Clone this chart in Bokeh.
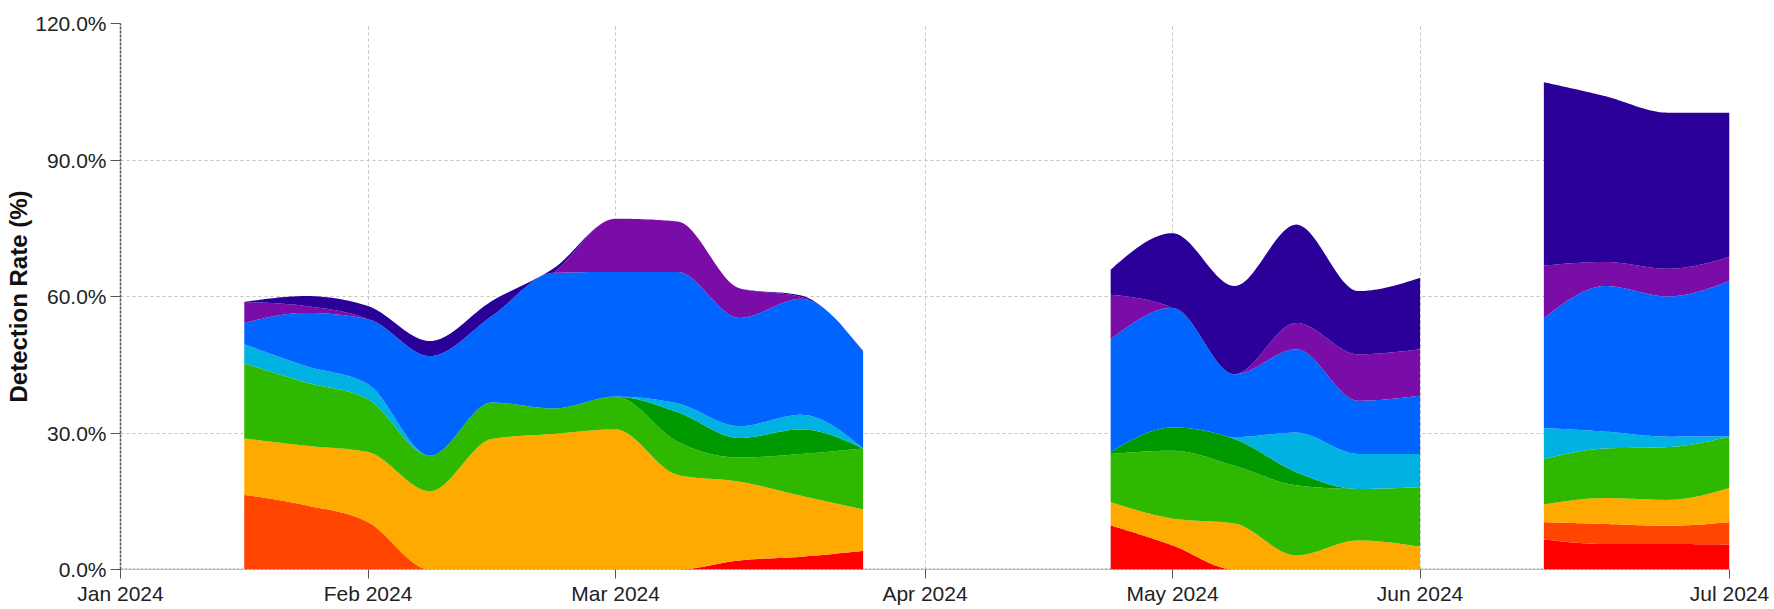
import numpy as np
from bokeh.plotting import figure
from bokeh.models import FixedTicker, Range1d, PrintfTickFormatter, Span
from bokeh.embed import file_html
from bokeh.resources import INLINE

# ---------------- data (weekly points, week 0 = first week of Jan 2024) ----------------
weeks = [2, 3, 4, 5, 6, 7, 8, 9, 10, 11, 12, 16, 17, 18, 19, 20, 21, 23, 24, 25, 26]

tick_weeks = [0, 4, 8, 13, 17, 21, 26]
tick_labels = ["Jan 2024", "Feb 2024", "Mar 2024", "Apr 2024", "May 2024", "Jun 2024", "Jul 2024"]

red       = [0, 0, 0, 0, 0, 0, 0, 0, 2.0, 2.8, 4.1,  9.7, 5.3, 0, 0, 0, 0,  6.6, 5.6, 5.6, 5.5]
orangered = [16.4, 14.1, 10.4, 0, 0, 0, 0, 0, 0, 0, 0,  0, 0, 0, 0, 0, 0,  3.8, 4.4, 4.0, 4.9]
orange    = [12.4, 13.1, 15.4, 17.2, 28.7, 29.8, 30.8, 20.8, 17.3, 13.4, 9.1,  5.1, 5.9, 10.1, 3.1, 6.4, 5.0,  3.9, 5.7, 5.7, 7.5]
green     = [16.5, 13.9, 11.6, 7.8, 8.0, 5.6, 7.2, 7.3, 5.3, 9.2, 13.4,  10.6, 14.9, 12.7, 15.4, 11.3, 13.1,  10.0, 10.9, 11.6, 11.3]
darkgreen = [0, 0, 0, 0, 0, 0, 0, 6.5, 4.3, 5.4, 0,  0.4, 5.1, 5.9, 2.9, 0, 0,  0, 0, 0, 0]
cyan      = [4.2, 3.6, 3.3, 0, 0, 0, 0, 1.9, 2.6, 3.2, 0,  0, 0, 0.4, 8.7, 7.7, 7.3,  6.8, 3.7, 2.3, 0.1]
blue      = [4.7, 11.7, 14.3, 21.9, 19.0, 29.8, 27.4, 28.9, 23.8, 25.5, 21.2,  24.8, 26.3, 13.8, 18.3, 11.7, 12.8,  24.1, 32.0, 30.8, 34.1]
purple    = [4.6, 1.5, 0, 0, 0, 0, 11.7, 11.1, 6.5, 0.4, 0,  9.8, 0, 0, 5.8, 10.2, 10.2,  11.6, 5.3, 6.1, 5.3]
indigo    = [0, 2.2, 2.9, 3.3, 3.3, 1.0, 0, 0, 0, 0.3, 0.2,  5.5, 16.4, 19.4, 21.6, 13.9, 15.7,  40.3, 36.4, 34.3, 31.7]

series = [red, orangered, orange, green, darkgreen, cyan, blue, purple, indigo]
colors = ["#FF0000", "#FF4500", "#FFAA00", "#2EB800", "#009A00", "#00B2E2", "#0064FF", "#7A0DA8", "#2A0099"]


# ---------------- smooth (monotone-x, like d3.curveMonotoneX) rendering helper ----------------
def _slopes(x, y):
    n = len(x)
    t = np.zeros(n)
    h = np.diff(x)
    s = np.diff(y) / h
    for i in range(1, n - 1):
        h0, h1, s0, s1 = h[i - 1], h[i], s[i - 1], s[i]
        p_ = (s0 * h1 + s1 * h0) / (h0 + h1)
        t[i] = (np.sign(s0) + np.sign(s1)) * min(abs(s0), abs(s1), 0.5 * abs(p_))
    t[0] = (3 * s[0] - t[1]) / 2 if n > 2 else s[0]
    t[-1] = (3 * s[-1] - t[-2]) / 2 if n > 2 else s[-1]
    return t


def smooth(x, y, per=24):
    x = np.asarray(x, float)
    y = np.asarray(y, float)
    t = _slopes(x, y)
    xs, ys = [], []
    for i in range(len(x) - 1):
        h = x[i + 1] - x[i]
        u = np.linspace(0, 1, per, endpoint=(i == len(x) - 2))
        h00 = 2 * u**3 - 3 * u**2 + 1
        h10 = u**3 - 2 * u**2 + u
        h01 = -2 * u**3 + 3 * u**2
        h11 = u**3 - u**2
        xs.append(x[i] + u * h)
        ys.append(h00 * y[i] + h10 * h * t[i] + h01 * y[i + 1] + h11 * h * t[i + 1])
    return np.concatenate(xs), np.concatenate(ys)


# split into contiguous segments (gaps = missing weeks)
w = np.array(weeks)
breaks = np.where(np.diff(w) > 1)[0] + 1
segments = np.split(np.arange(len(w)), breaks)

data = np.array(series, float)           # layers x points
cum = np.vstack([np.zeros(len(w)), np.cumsum(data, axis=0)])

p = figure(width=1772, height=607, output_backend="svg", toolbar_location=None,
           x_range=Range1d(0, 26), y_range=Range1d(0, 120),
           min_border_left=120, min_border_right=43, min_border_top=23, min_border_bottom=36,
           background_fill_color="white", border_fill_color="white")
p.outline_line_color = None

for idx in segments:
    xw = w[idx]
    bounds = []
    prev = None
    for k in range(cum.shape[0]):
        xs, ys = smooth(xw, cum[k, idx])
        if prev is not None:
            ys = np.maximum(ys, prev)
        bounds.append(ys)
        prev = ys
    for k, col in enumerate(colors):
        p.varea(x=xs, y1=bounds[k], y2=bounds[k + 1], fill_color=col, fill_alpha=1.0)

# baseline (0%) dashed line drawn under the areas
p.add_layout(Span(location=0, dimension="width", level="underlay",
                  line_color="#555555", line_width=1.5, line_dash="3 1"))

# axes
p.xaxis.ticker = FixedTicker(ticks=tick_weeks, minor_ticks=[])
p.xaxis.major_label_overrides = {t: l for t, l in zip(tick_weeks, tick_labels)}
p.yaxis.ticker = FixedTicker(ticks=[0, 30, 60, 90, 120], minor_ticks=[])
p.yaxis.formatter = PrintfTickFormatter(format="%.1f%%")
p.yaxis.axis_label = "Detection Rate (%)"
p.yaxis.axis_label_text_font = "Liberation Sans"
p.yaxis.axis_label_text_font_style = "bold"
p.yaxis.axis_label_text_font_size = "24px"
p.yaxis.axis_label_text_color = "#111111"
p.yaxis.axis_label_standoff = 0

for ax in (p.xaxis, p.yaxis):
    ax.major_label_text_font = "Liberation Sans"
    ax.major_label_text_font_size = "21px"
    ax.major_label_text_color = "#222222"
    ax.major_tick_line_color = "#555555"
    ax.major_tick_in = 0
    ax.minor_tick_line_color = None

p.xaxis.axis_line_color = None
p.xaxis.major_tick_out = 9
p.xaxis.major_label_standoff = 3
p.yaxis.major_tick_out = 10
p.yaxis.major_label_standoff = 4
p.yaxis.axis_line_color = "#555555"
p.yaxis.axis_line_width = 1.5
p.yaxis.axis_line_dash = "3 1"

# grids
p.xgrid.ticker = FixedTicker(ticks=tick_weeks[1:])
p.ygrid.ticker = FixedTicker(ticks=[30, 60, 90, 120])
for g in (p.xgrid, p.ygrid):
    g.grid_line_color = "#c4c4c4"
    g.grid_line_dash = "3 3"
    g.grid_line_width = 1

open("out.html", "w").write(file_html(p, INLINE))
